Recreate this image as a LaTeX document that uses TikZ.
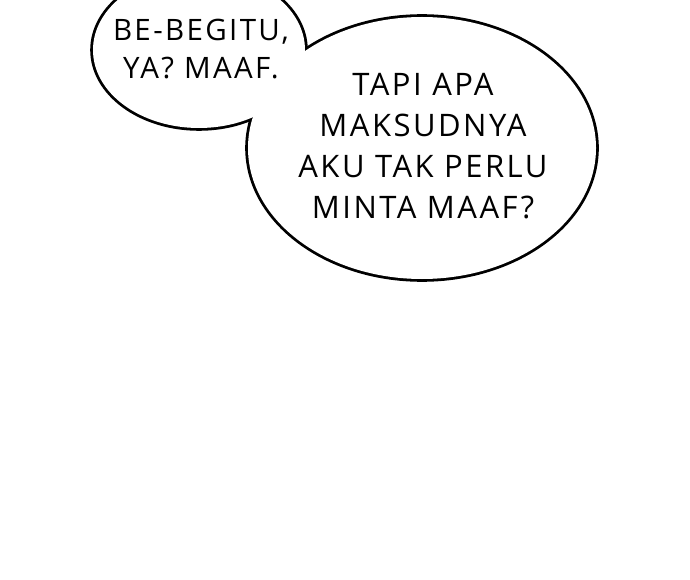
\documentclass[tikz,border=0pt]{standalone}
\usepackage{fontspec}
\setmainfont{Open Sans}[LetterSpace=8]
\begin{document}
\begin{tikzpicture}[x=1pt,y=-1pt,
    bubble/.style={draw=black, fill=white, line width=5.6pt},
    talk/.style={align=center, font=\fontsize{29.5}{38.5}\selectfont}]
    \useasboundingbox (0,0) rectangle (690,580);
    \clip (0,0) rectangle (690,580);
    \path[bubble] (199,50) ellipse [x radius=106, y radius=78];
    \path[bubble] (422,148) ellipse [x radius=174, y radius=131];
    \fill[white] (199,50) ellipse [x radius=106, y radius=78];
    \fill[white] (422,148) ellipse [x radius=174, y radius=131];
    \node[talk] (sorry) at (201,49) {BE-BEGITU,\\YA? MAAF.};
    \node[talk, font=\fontsize{31}{41}\selectfont] (question) at (423,146)
        {TAPI APA\\MAKSUDNYA\\AKU TAK PERLU\\MINTA MAAF?};
\end{tikzpicture}
\end{document}
